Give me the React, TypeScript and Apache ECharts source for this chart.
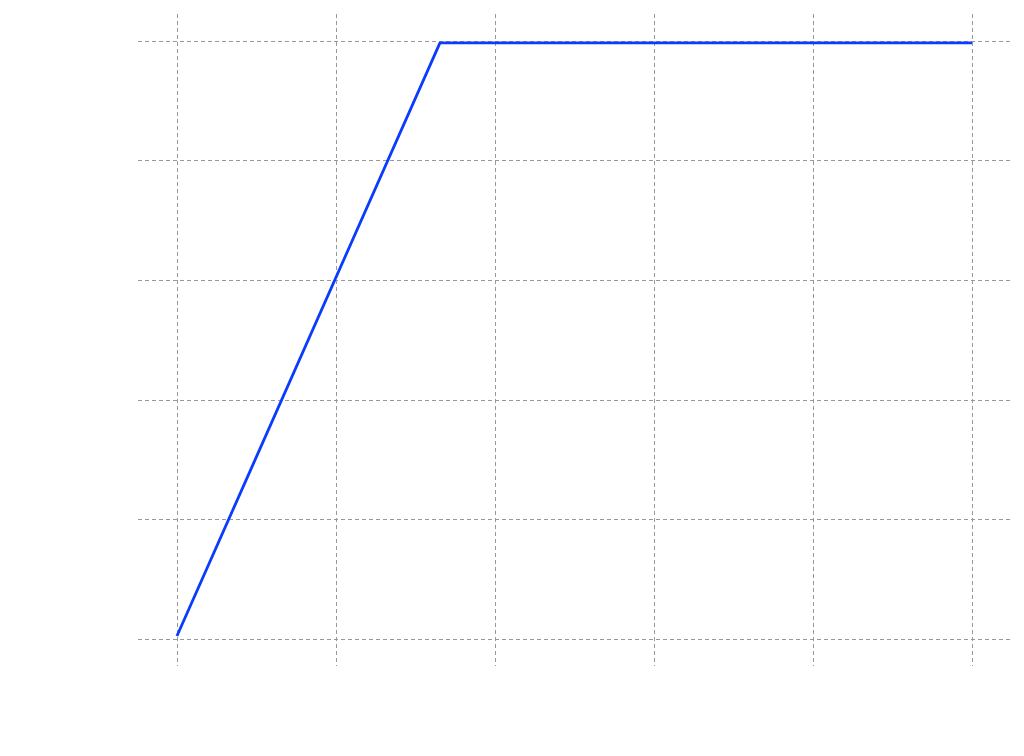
import React, { useEffect, useRef } from "react";
import * as echarts from "echarts";

// data
const xValues = [0, 1.654, 5];
const yValues = [0.005, 0.997, 0.997];

// grid line positions
const xTicks = [0, 1, 2, 3, 4, 5];
const yTicks = [0, 0.2, 0.4, 0.6, 0.8, 1];

const gridLineStyle = {
  color: "#999999",
  type: [4, 3] as number[],
  width: 1,
};

const App: React.FC = () => {
  const chartRef = useRef<HTMLDivElement>(null);

  useEffect(() => {
    document.body.style.margin = "0";
    if (!chartRef.current) return;
    const chart = echarts.init(chartRef.current, null, { renderer: "svg" });

    const option: echarts.EChartsOption = {
      animation: false,
      backgroundColor: "#ffffff",
      grid: { left: 138, right: 14, top: 14, bottom: 90 },
      xAxis: {
        type: "value",
        min: -0.245,
        max: 5.239,
        axisLine: { show: false },
        axisTick: { show: false, customValues: xTicks },
        axisLabel: { show: false },
        splitLine: { show: true, lineStyle: gridLineStyle },
      },
      yAxis: {
        type: "value",
        min: -0.0452,
        max: 1.0452,
        axisLine: { show: false },
        axisTick: { show: false, customValues: yTicks },
        axisLabel: { show: false },
        splitLine: { show: true, lineStyle: gridLineStyle },
      },
      series: [
        {
          type: "line",
          data: xValues.map((x, i) => [x, yValues[i]]),
          symbol: "none",
          lineStyle: { color: "#0a3cff", width: 2.8 },
        },
      ],
    };

    chart.setOption(option);
    return () => {
      chart.dispose();
    };
  }, []);

  return <div ref={chartRef} style={{ width: "1024px", height: "756px" }} />;
};

export default App;
